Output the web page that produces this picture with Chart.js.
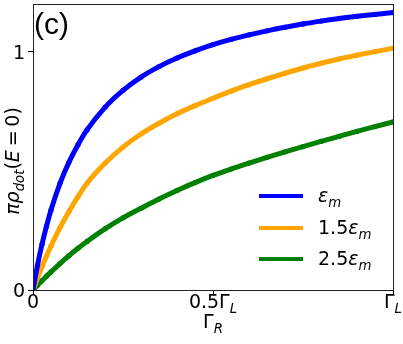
<!DOCTYPE html>
<html>
<head>
<meta charset="utf-8">
<script src="https://cdn.jsdelivr.net/npm/chart.js@4.4.1/dist/chart.umd.min.js"></script>
<style>
html,body{margin:0;padding:0;background:#fff;}
#wrap{width:403px;height:344px;position:relative;}
</style>
</head>
<body>
<div id="wrap"><canvas id="c" width="403" height="344"></canvas></div>
<script>
const gammaR  = [0, 0.0125, 0.025, 0.0375, 0.05, 0.075, 0.1, 0.125, 0.15, 0.2, 0.25, 0.3, 0.35, 0.4, 0.45, 0.5, 0.55, 0.6, 0.65, 0.7, 0.75, 0.8, 0.85, 0.9, 0.95, 1.0];
const rhoEm   = [0, 0.104, 0.192, 0.268, 0.336, 0.448, 0.537, 0.61, 0.672, 0.767, 0.838, 0.894, 0.938, 0.974, 1.004, 1.03, 1.052, 1.071, 1.088, 1.103, 1.117, 1.129, 1.14, 1.149, 1.157, 1.165];
const rho15Em = [0, 0.05, 0.098, 0.143, 0.185, 0.262, 0.33, 0.392, 0.448, 0.532, 0.60, 0.655, 0.70, 0.74, 0.774, 0.805, 0.835, 0.862, 0.887, 0.91, 0.932, 0.952, 0.97, 0.986, 1.001, 1.015];
const rho25Em = [0, 0.02, 0.039, 0.058, 0.076, 0.111, 0.144, 0.175, 0.204, 0.257, 0.303, 0.343, 0.382, 0.418, 0.451, 0.481, 0.508, 0.533, 0.557, 0.58, 0.602, 0.624, 0.645, 0.666, 0.686, 0.706];
const seriesLabels = ['ε_m', '1.5ε_m', '2.5ε_m'];
const seriesColors = ['#0000ff', '#ffa500', '#008000'];
const xTickValues = [0, 0.5, 1];
const xTickLabels = [[['0',0]], [['0.5',0],['Γ',0],['L',2]], [['Γ',0],['L',2]]];
const yTickValues = [0, 1];
const yTickLabels = ['0', '1'];

const FONT = '"DejaVu Sans"';
const FS = 19;

function toPts(vals){ return gammaR.map((g,i)=>({x:g, y:vals[i]})); }

// parts: [text, mode] mode 0 upright, 1 italic, 2 italic subscript
function mathWidth(ctx, parts, fs){
  let w = 0;
  for (const [t,m] of parts){
    const s = (m>=2) ? fs*0.7 : fs;
    ctx.font = ((m===1||m===2)?'italic ':'') + s + 'px ' + FONT;
    w += ctx.measureText(t).width;
  }
  return w;
}
function drawMath(ctx, parts, x, y, fs){
  let cx = x;
  for (const [t,m] of parts){
    const s = (m>=2) ? fs*0.7 : fs;
    ctx.font = ((m===1||m===2)?'italic ':'') + s + 'px ' + FONT;
    const dy = (m>=2) ? fs*0.25 : 0;
    ctx.fillText(t, cx, y+dy);
    cx += ctx.measureText(t).width;
  }
  return cx;
}

const decor = {
  id:'decor',
  afterDraw(chart){
    const ctx = chart.ctx;
    const a = chart.chartArea;
    const xs = chart.scales.x;
    const ys = chart.scales.y;
    ctx.save();
    ctx.strokeStyle = '#222';
    ctx.lineWidth = 1;
    ctx.strokeRect(Math.round(a.left)+0.5, Math.round(a.top)+0.5, Math.round(a.right-a.left), Math.round(a.bottom-a.top));
    ctx.fillStyle = '#000';
    ctx.textBaseline = 'alphabetic';
    ctx.textAlign = 'left';
    // y tick labels
    yTickValues.forEach((v,i)=>{
      ctx.font = FS + 'px ' + FONT;
      const w = ctx.measureText(yTickLabels[i]).width;
      const py = ys.getPixelForValue(v);
      ctx.fillText(yTickLabels[i], a.left - 8 - w, py + 7);
    });
    // x tick labels
    xTickValues.forEach((v,i)=>{
      const parts = xTickLabels[i];
      const w = mathWidth(ctx, parts, FS);
      const px = xs.getPixelForValue(v);
      drawMath(ctx, parts, px - w/2, a.bottom + 18, FS);
    });
    // x title
    const xt = [['Γ',0],['R',2]];
    const wx = mathWidth(ctx, xt, FS);
    drawMath(ctx, xt, (a.left+a.right)/2 - wx/2, 328, FS);
    // y title rotated
    const yt = [['π',1],['ρ',1],['dot',2],['(',0],['E',1],['\u2009=\u2009',0],['0',0],[')',0]];
    const wy = mathWidth(ctx, yt, FS);
    ctx.save();
    ctx.translate(19, 161);
    ctx.rotate(-Math.PI/2);
    drawMath(ctx, yt, -wy/2, 0, FS);
    ctx.restore();
    // panel label
    ctx.font = '30px "Liberation Sans"';
    ctx.fillText('(c)', a.left + 1, a.top + 30);
    // legend
    const legY = [196, 228, 259];
    const legParts = [[['ε',1],['m',2]], [['1.5',0],['ε',1],['m',2]], [['2.5',0],['ε',1],['m',2]]];
    chart.data.datasets.forEach((ds,i)=>{
      ctx.strokeStyle = ds.borderColor;
      ctx.lineWidth = 4;
      ctx.beginPath();
      ctx.moveTo(259, legY[i]);
      ctx.lineTo(303, legY[i]);
      ctx.stroke();
      ctx.fillStyle = '#000';
      drawMath(ctx, legParts[i], 318, legY[i] + 6, FS);
    });
    ctx.restore();
  }
};

function ds(i, vals){
  return {label:seriesLabels[i], data:toPts(vals), borderColor:seriesColors[i], backgroundColor:seriesColors[i],
    borderWidth:5, pointRadius:2.6, pointBorderWidth:0, pointHoverRadius:0, cubicInterpolationMode:'monotone'};
}

new Chart(document.getElementById('c'), {
  type:'line',
  data:{ datasets:[ ds(0, rhoEm), ds(1, rho15Em), ds(2, rho25Em) ] },
  options:{
    responsive:false,
    animation:false,
    devicePixelRatio:1,
    layout:{padding:{top:2, right:10, left:0, bottom:0}},
    plugins:{legend:{display:false}, tooltip:{enabled:false}},
    scales:{
      x:{
        type:'linear', min:0, max:1,
        afterBuildTicks(s){ s.ticks = xTickValues.map(v=>({value:v})); },
        ticks:{callback:()=> '', font:{size:2}},
        grid:{drawOnChartArea:false, drawTicks:true, tickLength:5, color:'#000'},
        border:{display:true, color:'#222', width:1},
        afterFit(s){ s.height = 54; }
      },
      y:{
        type:'linear', min:0, max:1.2,
        afterBuildTicks(s){ s.ticks = yTickValues.map(v=>({value:v})); },
        ticks:{callback:()=> '', font:{size:2}},
        grid:{drawOnChartArea:false, drawTicks:true, tickLength:5, color:'#000'},
        border:{display:true, color:'#222', width:1},
        afterFit(s){ s.width = 33; }
      }
    }
  },
  plugins:[decor]
});
</script>
</body>
</html>
